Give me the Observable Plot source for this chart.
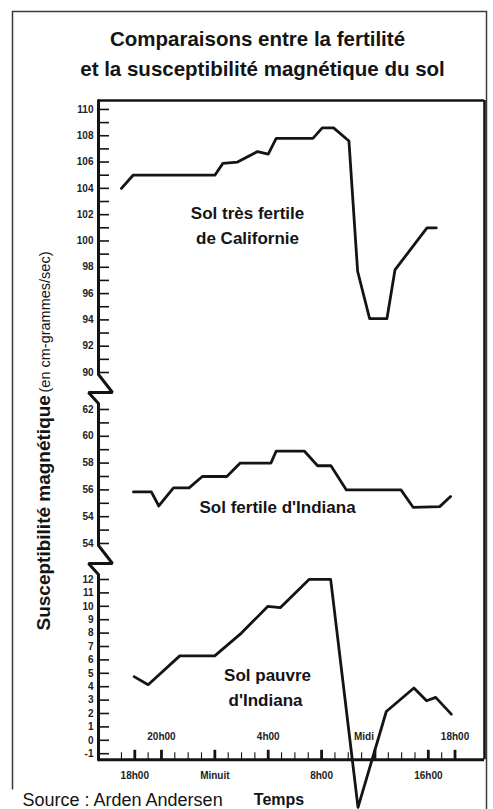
<!DOCTYPE html>
<html><head><meta charset="utf-8">
<script src="https://cdn.jsdelivr.net/npm/d3@7"></script>
<script src="https://cdn.jsdelivr.net/npm/@observablehq/plot@0.6"></script>
<style>
html,body{margin:0;padding:0;background:#fff;}
#chart{width:493px;height:809px;overflow:hidden;}
</style></head>
<body><div id="chart"></div>
<script>
// ---- Data (hours counted from midnight of day 1: 18 = 18h00, 24 = minuit, 36 = midi, 42 = 18h00) ----
const calHours  = [17.0, 17.87, 24.0, 24.6, 25.7, 27.2, 28.0, 28.6, 31.35, 32.05, 32.9, 34.05, 34.7, 35.6, 36.9, 37.5, 39.9, 40.6];
const calValues = [104.0, 105.0, 105.0, 105.9, 106.0, 106.8, 106.6, 107.8, 107.8, 108.6, 108.6, 107.6, 97.7, 94.1, 94.1, 97.8, 101.0, 101.0];

const fertHours  = [17.9, 19.24, 19.8, 20.9, 22.07, 23.06, 24.9, 25.9, 28.2, 28.6, 30.7, 31.7, 32.7, 33.86, 37.95, 38.86, 40.85, 41.67];
const fertValues = [55.85, 55.85, 54.8, 56.15, 56.15, 57.0, 57.0, 58.0, 58.0, 58.9, 58.9, 57.8, 57.8, 56.0, 56.0, 54.7, 54.75, 55.5];

const poorHours  = [17.95, 19.0, 21.37, 23.99, 25.99, 27.98, 28.9, 31.06, 32.68, 34.73, 36.85, 38.92, 39.87, 40.55, 41.72];
const poorValues = [4.75, 4.15, 6.3, 6.3, 8.0, 10.0, 9.9, 12.05, 12.1, -5.0, 2.15, 3.9, 2.95, 3.2, 1.95];

const labelTexts  = ["Sol très fertile", "de Californie", "Sol fertile d'Indiana", "Sol pauvre", "d'Indiana"];
const labelHours  = [26.45, 26.45, 28.7, 27.95, 27.8];
const labelValues = [102.1, 100.2, 54.7, 4.85, 2.95];

const yTickValues = [110,108,106,104,102,100,98,96,94,92,90, 62,60,58,56,54,52, 12,11,10,9,8,7,6,5,4,3,2,1,0,-1];
const yTickLabels = ["110","108","106","104","102","100","98","96","94","92","90", "62","60","58","56","54","54", "12","11","10","9","8","7","6","5","4","3","2","1","0","-1"];
const yMinorTicks = [...d3.range(90, 111), ...d3.range(52, 63), ...d3.range(-1, 13)];

const xMinorTicks = d3.range(17, 43);
const xMajorTicks = [18, 20, 24, 28, 32, 36, 40, 42];
const xLabelsBelow = ["18h00", "Minuit", "8h00", "16h00"];
const xLabelsBelowHours = [18, 24, 32, 40];
const xLabelsAbove = ["20h00", "4h00", "18h00"];
const xLabelsAboveHours = [20, 28, 42];
const xLabelMidi = ["Midi"];
const xLabelMidiHours = [36];

// broken y axis: value segments [-5..12], [52..62], [90..110.68]
const segValues = [-5, 12, 52, 62, 90, 110.68];
const segUnits  = [-5, 12, 14.687, 24.687, 27.448, 47.746];
const axisBreaks = [90, 52];

// ---- Scales ----
const xDomain = [15.28, 44.21], xRange = [98, 484];
const uDomain = [-5, 47.746], uRange = [806.8, 100];
const toU = d3.scaleLinear(segValues, segUnits);         // value -> continuous broken-axis unit
const xs = d3.scaleLinear(xDomain, xRange);
const us = d3.scaleLinear(uDomain, uRange);
const uTop = uDomain[1];
const basePx = 759.3;
const uBase = us.invert(basePx);

const cal = calHours.map((h, i) => ({h, v: calValues[i]}));
const fert = fertHours.map((h, i) => ({h, v: fertValues[i]}));
const poor = poorHours.map((h, i) => ({h, v: poorValues[i]}));
const labels = labelTexts.map((t, i) => ({t, h: labelHours[i], v: labelValues[i]}));
const yTicks = yTickValues.map((v, i) => ({v, t: yTickLabels[i]}));
const Y = d => toU(d.v);

// left axis polyline with break symbols
const axX = xRange[0];
const axisPx = [[axX, uRange[1]]];
for (const b of axisBreaks) {
  const p = us(toU(b)) + 2;
  axisPx.push([axX, p], [axX + 14, p + 18], [axX - 10, p + 18], [axX, p + 29]);
}
axisPx.push([axX, basePx]);
const axisData = axisPx.map(([px, py]) => ({h: xs.invert(px), u: us.invert(py)}));

const ink = "#141414";
const font = "'Liberation Sans', Arial, Helvetica, sans-serif";
const abs = {frameAnchor: "top-left", text: d => d, lineAnchor: "middle", fill: ink};

const chart = Plot.plot({
  width: 493, height: 809,
  marginTop: 0, marginRight: 0, marginBottom: 0, marginLeft: 0,
  x: {domain: xDomain, range: xRange, axis: null},
  y: {domain: uDomain, range: uRange, axis: null},
  style: {fontFamily: font, background: "white", color: ink},
  marks: [
    Plot.frame({stroke: "#3a3a3a", strokeWidth: 1.5, insetLeft: 12, insetTop: 11, insetRight: 7, insetBottom: -40}),
    Plot.frame({fill: "white", stroke: "none", insetTop: 789, insetRight: 248}),
    // plot frame
    Plot.ruleY([uTop], {x1: xDomain[0], x2: xDomain[1], stroke: ink, strokeWidth: 2.6}),
    Plot.ruleX([xDomain[1]], {y1: uBase, y2: uTop, stroke: ink, strokeWidth: 2.6}),
    Plot.ruleY([uBase], {x1: xDomain[0], x2: xDomain[1], stroke: ink, strokeWidth: 3}),
    Plot.line(axisData, {x: "h", y: "u", stroke: ink, strokeWidth: 3, strokeLinejoin: "miter"}),
    // y ticks
    Plot.ruleY(yMinorTicks, {y: d => toU(d), x1: xs.invert(100), x2: xs.invert(109), stroke: ink, strokeWidth: 1.6}),
    Plot.text(yTicks, {x: xDomain[0], y: Y, text: "t", dx: -5, textAnchor: "end", fontSize: 10, fontWeight: "bold", fill: "#222"}),
    // x ticks
    Plot.ruleX(xMinorTicks, {x: d => d, y1: uBase, y2: us.invert(basePx - 7), stroke: ink, strokeWidth: 1.1}),
    Plot.ruleX(xMajorTicks, {x: d => d, y1: uBase, y2: us.invert(basePx - 9.5), stroke: ink, strokeWidth: 2.8}),
    Plot.text(xLabelsBelow, {x: (d, i) => xLabelsBelowHours[i], y: uBase, dy: 16, text: d => d, fontSize: 10, fontWeight: "bold", fill: "#222"}),
    Plot.text(xLabelsAbove, {x: (d, i) => xLabelsAboveHours[i], y: uBase, dy: -23, text: d => d, fontSize: 10, fontWeight: "bold", fill: "#222"}),
    Plot.text(xLabelMidi, {x: (d, i) => xLabelMidiHours[i], y: uBase, dy: -23, dx: -11, text: d => d, fontSize: 10, fontWeight: "bold", fill: "#222"}),
    // series
    Plot.line(cal, {x: "h", y: Y, stroke: ink, strokeWidth: 2.8, strokeLinejoin: "round"}),
    Plot.line(fert, {x: "h", y: Y, stroke: ink, strokeWidth: 2.8, strokeLinejoin: "round"}),
    Plot.line(poor, {x: "h", y: Y, stroke: ink, strokeWidth: 2.8, strokeLinejoin: "round"}),
    Plot.text(labels, {x: "h", y: Y, text: "t", fontSize: 17, fontWeight: "bold", fill: ink}),
    // titles
    Plot.text(["Comparaisons entre la fertilité"], {...abs, dx: 257, dy: 39.4, textAnchor: "middle", fontSize: 20.5, fontWeight: "bold"}),
    Plot.text(["et la susceptibilité magnétique du sol"], {...abs, dx: 262, dy: 69.4, textAnchor: "middle", fontSize: 20.5, fontWeight: "bold"}),
    Plot.text(["Susceptibilité magnétique"], {...abs, dx: 43, dy: 630, rotate: -90, textAnchor: "start", fontSize: 19, fontWeight: "bold"}),
    Plot.text(["(en cm-grammes/sec)"], {...abs, dx: 44.6, dy: 392, rotate: -90, textAnchor: "start", fontSize: 14.5}),
    Plot.text(["Temps"], {...abs, dx: 278.5, dy: 799.5, textAnchor: "middle", fontSize: 16, fontWeight: "bold"}),
    Plot.text(["Source : Arden Andersen"], {...abs, dx: 22, dy: 799.3, textAnchor: "start", fontSize: 18})
  ]
});
document.getElementById("chart").appendChild(chart);
</script>
</body></html>
